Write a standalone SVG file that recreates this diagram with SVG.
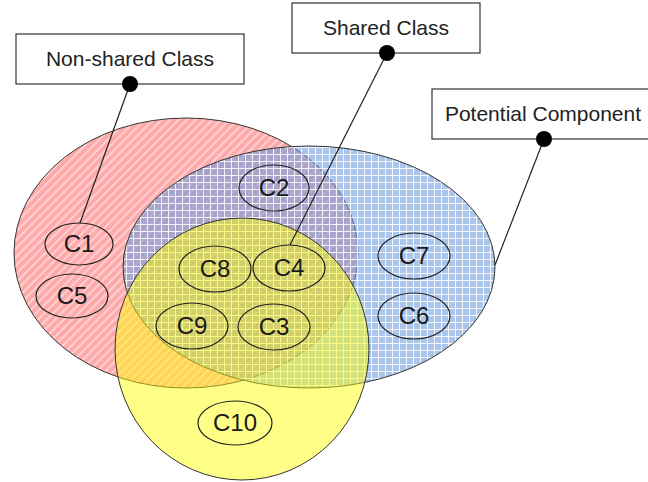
<svg xmlns="http://www.w3.org/2000/svg" width="648" height="482" viewBox="0 0 648 482">
<defs>
<pattern id="hatch" patternUnits="userSpaceOnUse" width="6" height="6" patternTransform="rotate(45)">
<rect width="6" height="6" fill="#ffaaaa"/>
<line x1="1" y1="0" x2="1" y2="6" stroke="#ffffff" stroke-opacity="0.75" stroke-width="1.2"/>
</pattern>
<pattern id="grid" patternUnits="userSpaceOnUse" width="7" height="7">
<rect width="7" height="7" fill="#6496dc" fill-opacity="0.55"/>
<path d="M0 0.5H7M0.5 0V7" stroke="#ffffff" stroke-opacity="0.85" stroke-width="1"/>
</pattern>
<style>
.big{stroke:#333;stroke-width:1}
.cls{fill:none;stroke:#222;stroke-width:1.2}
.ct{font-family:"Liberation Sans",Arial,sans-serif;font-size:24px;fill:#1a1a1a;text-anchor:middle}
.box{fill:#fff;stroke:#333;stroke-width:1.2}
.bt{font-family:"Liberation Sans",Arial,sans-serif;font-size:21px;fill:#222;text-anchor:middle}
.lead{stroke:#222;stroke-width:1.2;fill:none}
</style>
</defs>
<g id="nonshared-set"><ellipse class="big" cx="186" cy="253" rx="172" ry="135" fill="url(#hatch)"/></g>
<g id="component-set"><ellipse class="big" cx="309" cy="267" rx="186" ry="121" fill="url(#grid)"/></g>
<g id="shared-set"><ellipse class="big" cx="242" cy="349" rx="127" ry="131" fill="#ffff00" fill-opacity="0.47"/></g>
<g id="C1"><ellipse class="cls" cx="79" cy="244" rx="34" ry="21"/><text class="ct" x="79" y="252">C1</text></g>
<g id="C5"><ellipse class="cls" cx="72" cy="296" rx="36" ry="22"/><text class="ct" x="72" y="304">C5</text></g>
<g id="C2"><ellipse class="cls" cx="274" cy="188" rx="35" ry="23"/><text class="ct" x="274" y="196">C2</text></g>
<g id="C8"><ellipse class="cls" cx="215" cy="269" rx="36" ry="23"/><text class="ct" x="215" y="277">C8</text></g>
<g id="C4"><ellipse class="cls" cx="289" cy="268" rx="36" ry="23"/><text class="ct" x="289" y="276">C4</text></g>
<g id="C7"><ellipse class="cls" cx="414" cy="256" rx="36" ry="23"/><text class="ct" x="414" y="264">C7</text></g>
<g id="C6"><ellipse class="cls" cx="414" cy="316" rx="36" ry="23"/><text class="ct" x="414" y="324">C6</text></g>
<g id="C9"><ellipse class="cls" cx="192" cy="326" rx="36" ry="23"/><text class="ct" x="192" y="334">C9</text></g>
<g id="C3"><ellipse class="cls" cx="274" cy="327" rx="36" ry="23"/><text class="ct" x="274" y="335">C3</text></g>
<g id="C10"><ellipse class="cls" cx="235" cy="423" rx="37" ry="22"/><text class="ct" x="235" y="431">C10</text></g>
<g id="connectors">
<line class="lead" x1="130" y1="84" x2="80" y2="223"/>
<line class="lead" x1="387" y1="53" x2="290" y2="245"/>
<line class="lead" x1="544" y1="139" x2="495" y2="265"/>
</g>
<g id="label-nonshared"><rect class="box" x="16" y="34" width="228" height="50"/><text class="bt" x="130" y="66">Non-shared Class</text><circle cx="130" cy="84" r="8" fill="#000"/></g>
<g id="label-shared"><rect class="box" x="292" y="3" width="188" height="50"/><text class="bt" x="386" y="35">Shared Class</text><circle cx="387" cy="53" r="8" fill="#000"/></g>
<g id="label-component"><rect class="box" x="432" y="89" width="224" height="50"/><text class="bt" x="543" y="121">Potential Component</text><circle cx="544" cy="139" r="8" fill="#000"/></g>
</svg>
